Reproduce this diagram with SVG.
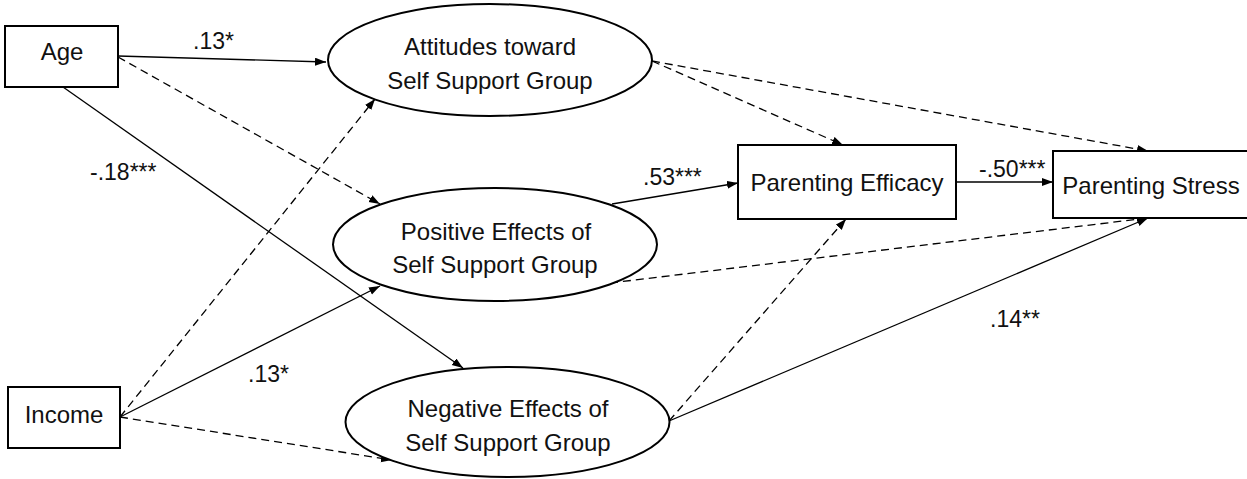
<svg xmlns="http://www.w3.org/2000/svg" width="1247" height="479" viewBox="0 0 1247 479">
<style>
.node{fill:#fff;stroke:#000;stroke-width:2}
.t{font-family:"Liberation Sans",Arial,sans-serif;font-size:24px;fill:#111;text-anchor:middle}
.lbl{font-family:"Liberation Sans",Arial,sans-serif;font-size:23px;fill:#111}
.c{fill:none;stroke:#000;stroke-width:1.3;marker-end:url(#ah)}
.d{stroke-dasharray:8,5}
</style>
<defs>
<marker id="ah" markerUnits="userSpaceOnUse" markerWidth="12" markerHeight="10" refX="11" refY="4" orient="auto">
<path d="M0,0 L11,4 L0,8 Z" fill="#000"/>
</marker>
</defs>
<rect width="1247" height="479" fill="#fff"/>
<g id="connectors">
<line class="c" x1="118" y1="56" x2="326" y2="62"/>
<line class="c d" x1="118" y1="57" x2="380" y2="204"/>
<line class="c" x1="63" y1="87" x2="463" y2="368"/>
<line class="c d" x1="120" y1="417" x2="375" y2="99"/>
<line class="c" x1="120" y1="417" x2="380" y2="286"/>
<line class="c d" x1="120" y1="417" x2="392" y2="460"/>
<line class="c d" x1="652" y1="61" x2="843" y2="145"/>
<line class="c d" x1="652" y1="61" x2="1148" y2="151"/>
<line class="c" x1="612" y1="204" x2="738" y2="183"/>
<line class="c" x1="956" y1="182" x2="1053" y2="182"/>
<line class="c d" x1="610" y1="283" x2="1148" y2="218"/>
<line class="c d" x1="669" y1="421" x2="846" y2="219"/>
<line class="c" x1="669" y1="421" x2="1148" y2="218"/>
</g>
<g id="labels">
<text class="lbl" x="193" y="49">.13*</text>
<text class="lbl" x="90" y="180">-.18***</text>
<text class="lbl" x="643" y="185">.53***</text>
<text class="lbl" x="979" y="177">-.50***</text>
<text class="lbl" x="248" y="382">.13*</text>
<text class="lbl" x="990" y="327">.14**</text>
</g>
<g id="age"><rect class="node" x="5" y="26" width="113" height="61"/><text class="t" x="62" y="60">Age</text></g>
<g id="income"><rect class="node" x="8" y="387" width="112" height="61"/><text class="t" x="64" y="423">Income</text></g>
<g id="attitudes"><ellipse class="node" cx="490" cy="60" rx="162" ry="56"/><text class="t" x="490" y="55">Attitudes toward</text><text class="t" x="490" y="89">Self Support Group</text></g>
<g id="positive"><ellipse class="node" cx="495" cy="244.5" rx="162" ry="56.5"/><text class="t" x="496" y="240">Positive Effects of</text><text class="t" x="495" y="273">Self Support Group</text></g>
<g id="negative"><ellipse class="node" cx="507.5" cy="422" rx="162" ry="55"/><text class="t" x="508" y="417">Negative Effects of</text><text class="t" x="508" y="451">Self Support Group</text></g>
<g id="efficacy"><rect class="node" x="738" y="145" width="218" height="74"/><text class="t" x="847" y="191">Parenting Efficacy</text></g>
<g id="stress"><rect class="node" x="1053" y="151" width="200" height="67"/><text class="t" x="1151" y="194">Parenting Stress</text></g>
</svg>
